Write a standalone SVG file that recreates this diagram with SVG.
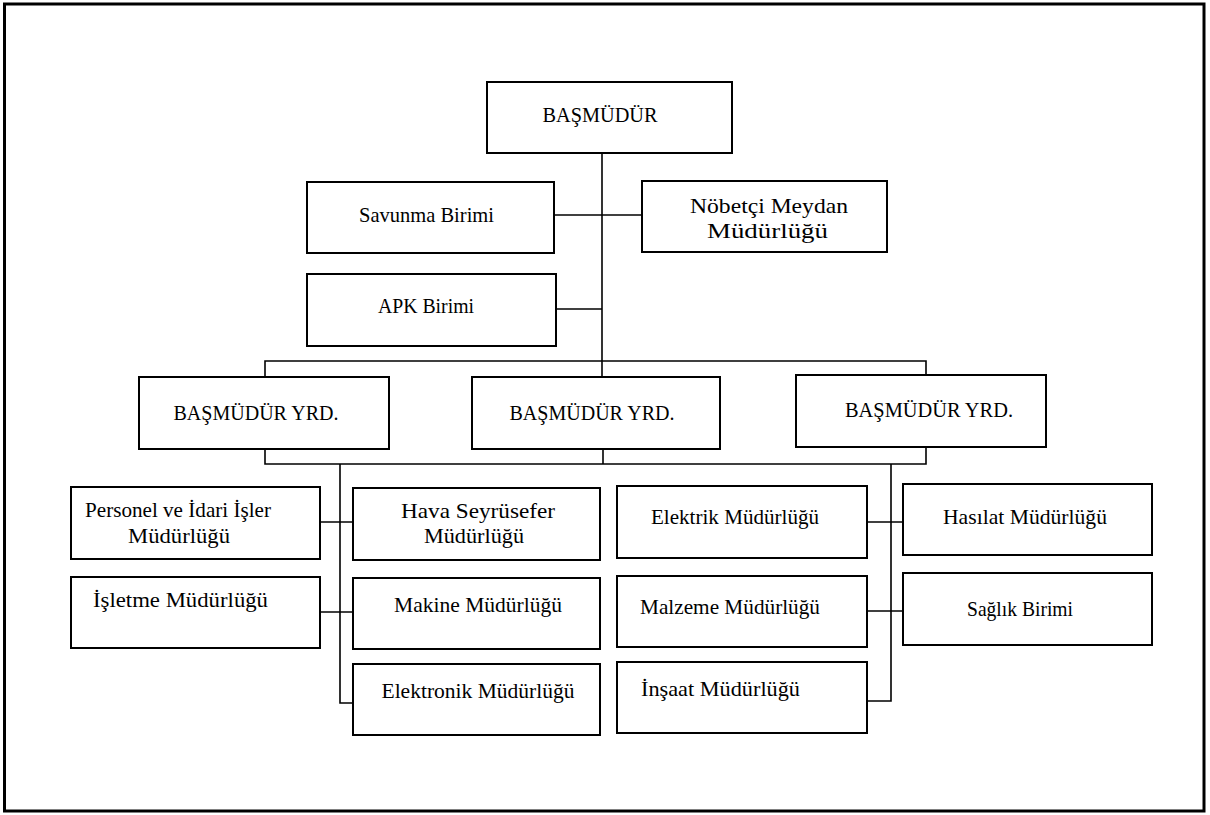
<svg xmlns="http://www.w3.org/2000/svg" width="1210" height="815" viewBox="0 0 1210 815">
<style>
.box{fill:#fff;stroke:#000;stroke-width:2}
.ln{fill:none;stroke:#000;stroke-width:1.6}
text{font-family:"Liberation Serif","Times New Roman",serif;font-size:21px;fill:#000;text-anchor:middle}
</style>
<rect x="0" y="0" width="1210" height="815" fill="#fff"/>
<rect x="4.5" y="4" width="1199.5" height="807" fill="none" stroke="#000" stroke-width="3"/>
<g id="connectors" class="ln">
<line x1="602" y1="153" x2="602" y2="377"/>
<line x1="554" y1="215" x2="642" y2="215"/>
<line x1="556" y1="309" x2="602" y2="309"/>
<polyline points="265,377 265,361 926,361 926,375"/>
<polyline points="265,449 265,464 926,464 926,447"/>
<line x1="603" y1="449" x2="603" y2="464"/>
<polyline points="340,464 340,703 353,703"/>
<line x1="320" y1="522" x2="353" y2="522"/>
<line x1="320" y1="612" x2="353" y2="612"/>
<polyline points="891,464 891,701 867,701"/>
<line x1="867" y1="522" x2="903" y2="522"/>
<line x1="867" y1="611" x2="903" y2="611"/>
</g>
<g id="basmudur"><rect class="box" x="487" y="82" width="245" height="71"/><text x="600" y="122" textLength="115" lengthAdjust="spacingAndGlyphs">BAŞMÜDÜR</text></g>
<g id="savunma"><rect class="box" x="307" y="182" width="247" height="71"/><text x="426.5" y="222" textLength="135" lengthAdjust="spacingAndGlyphs">Savunma Birimi</text></g>
<g id="nobetci"><rect class="box" x="642" y="181" width="245" height="71"/><text x="769" y="213" textLength="158" lengthAdjust="spacingAndGlyphs">Nöbetçi Meydan</text><text x="767.5" y="238" textLength="121" lengthAdjust="spacingAndGlyphs">Müdürlüğü</text></g>
<g id="apk"><rect class="box" x="307" y="274" width="249" height="72"/><text x="426" y="313" textLength="96" lengthAdjust="spacingAndGlyphs">APK Birimi</text></g>
<g id="yrd1"><rect class="box" x="139" y="377" width="250" height="72"/><text x="256" y="420" textLength="165" lengthAdjust="spacingAndGlyphs">BAŞMÜDÜR YRD.</text></g>
<g id="yrd2"><rect class="box" x="472" y="377" width="248" height="72"/><text x="592" y="420" textLength="165" lengthAdjust="spacingAndGlyphs">BAŞMÜDÜR YRD.</text></g>
<g id="yrd3"><rect class="box" x="796" y="375" width="250" height="72"/><text x="929" y="417" textLength="168" lengthAdjust="spacingAndGlyphs">BAŞMÜDÜR YRD.</text></g>
<g id="personel"><rect class="box" x="71" y="487" width="249" height="72"/><text x="178" y="517" textLength="186" lengthAdjust="spacingAndGlyphs">Personel ve İdari İşler</text><text x="179" y="543" textLength="102" lengthAdjust="spacingAndGlyphs">Müdürlüğü</text></g>
<g id="hava"><rect class="box" x="353" y="488" width="247" height="72"/><text x="478" y="518" textLength="154" lengthAdjust="spacingAndGlyphs">Hava Seyrüsefer</text><text x="474" y="543" textLength="100" lengthAdjust="spacingAndGlyphs">Müdürlüğü</text></g>
<g id="isletme"><rect class="box" x="71" y="577" width="249" height="71"/><text x="180.5" y="607" textLength="175" lengthAdjust="spacingAndGlyphs">İşletme Müdürlüğü</text></g>
<g id="makine"><rect class="box" x="353" y="578" width="247" height="71"/><text x="478" y="612" textLength="168" lengthAdjust="spacingAndGlyphs">Makine Müdürlüğü</text></g>
<g id="elektronik"><rect class="box" x="353" y="664" width="247" height="71"/><text x="478" y="698" textLength="193" lengthAdjust="spacingAndGlyphs">Elektronik Müdürlüğü</text></g>
<g id="elektrik"><rect class="box" x="617" y="486" width="250" height="72"/><text x="735" y="524" textLength="168" lengthAdjust="spacingAndGlyphs">Elektrik Müdürlüğü</text></g>
<g id="hasilat"><rect class="box" x="903" y="484" width="249" height="71"/><text x="1025" y="524" textLength="164" lengthAdjust="spacingAndGlyphs">Hasılat Müdürlüğü</text></g>
<g id="malzeme"><rect class="box" x="617" y="576" width="250" height="71"/><text x="730" y="614" textLength="180" lengthAdjust="spacingAndGlyphs">Malzeme Müdürlüğü</text></g>
<g id="saglik"><rect class="box" x="903" y="573" width="249" height="72"/><text x="1020" y="616" textLength="106" lengthAdjust="spacingAndGlyphs">Sağlık Birimi</text></g>
<g id="insaat"><rect class="box" x="617" y="662" width="250" height="71"/><text x="720.5" y="696" textLength="159" lengthAdjust="spacingAndGlyphs">İnşaat Müdürlüğü</text></g>
</svg>
